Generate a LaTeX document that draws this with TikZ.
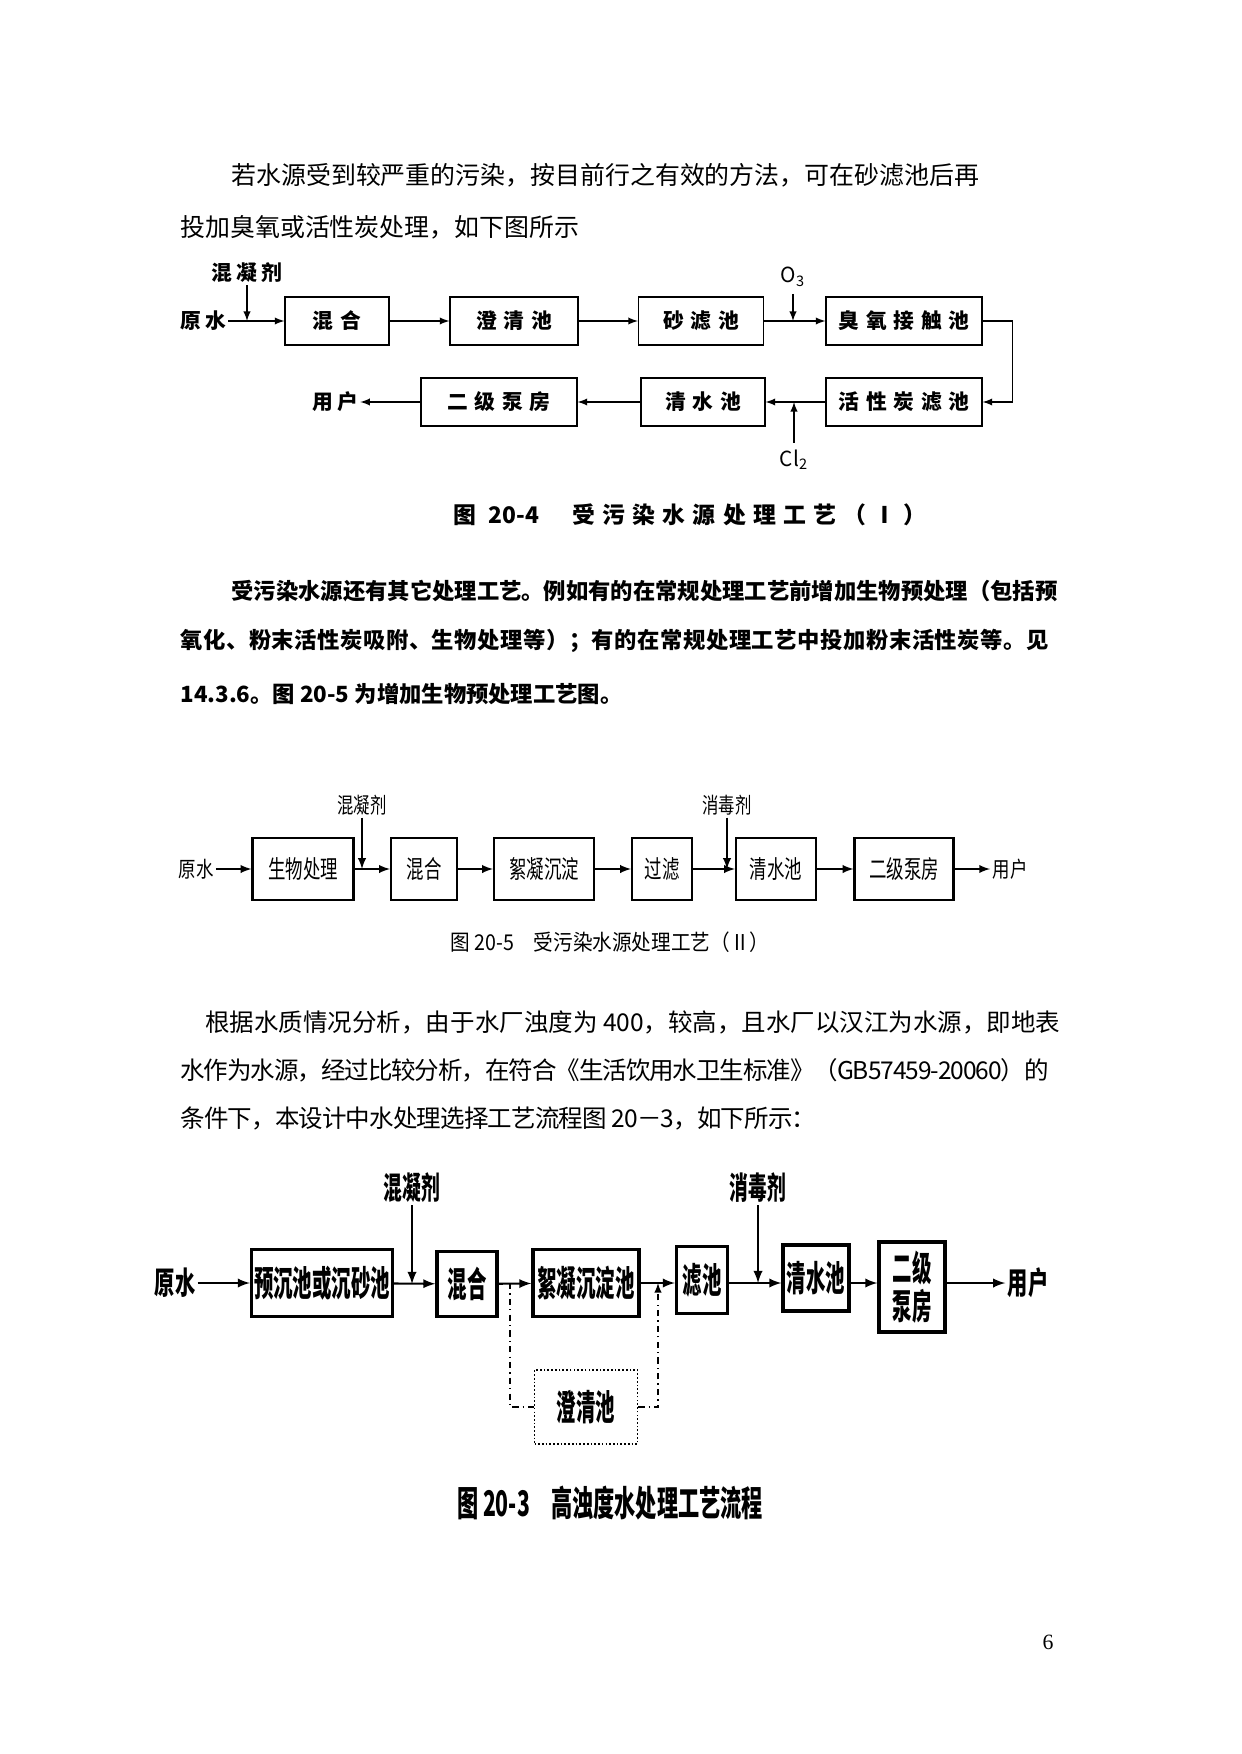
\documentclass[tikz,border=0pt]{standalone}
\usepackage{graphicx}
\usepackage{fontspec}
\setmainfont{Noto Sans CJK SC}
\newfontfamily\wide[LetterSpace=32]{Noto Sans CJK SC}
\newfontfamily\widelabel[LetterSpace=20]{Noto Sans CJK SC}
\newfontfamily\serifnum{Liberation Serif}
\newcommand{\squeeze}[2]{\scalebox{#1}[1]{#2}}

\begin{document}
\begin{tikzpicture}[x=0.016922cm,y=-0.016922cm,>=latex,
  textline/.style={anchor=west,inner sep=0,font=\fontsize{11.8pt}{14pt}\selectfont},
  scanline/.style={anchor=west,inner sep=0,font=\bfseries\fontsize{10.75pt}{13pt}\selectfont},
  boxa/.style={draw,line width=0.6pt,inner sep=0,minimum height=0.812cm,font=\wide\bfseries\fontsize{10pt}{12pt}\selectfont},
  laba/.style={inner sep=1pt,font=\widelabel\bfseries\fontsize{10pt}{12pt}\selectfont},
  flowa/.style={->,line width=0.6pt},
  boxb/.style={draw,line width=1pt,inner sep=0,minimum height=1.049cm,font=\fontsize{12pt}{14pt}\selectfont},
  labb/.style={inner sep=1pt,font=\fontsize{10.5pt}{12pt}\selectfont},
  flowb/.style={->,line width=0.8pt},
  boxc/.style={draw,line width=1.6pt,inner sep=0,minimum height=1.134cm,font=\bfseries\fontsize{17pt}{18.3pt}\selectfont},
  labc/.style={inner sep=1pt,font=\bfseries\fontsize{15pt}{17pt}\selectfont},
  flowc/.style={->,line width=1pt}]
  \useasboundingbox[fill=white] (0,0) rectangle (1241,1754);

  \node[textline,font=\fontsize{12pt}{14pt}\selectfont] (p1a) at (231,175) {若水源受到较严重的污染，按目前行之有效的方法，可在砂滤池后再};
  \node[textline,font=\fontsize{12pt}{14pt}\selectfont] (p1b) at (180,227) {投加臭氧或活性炭处理，如下图所示};

  \node[laba] (coag1) at (247,273) {混凝剂};
  \node[laba] (raw1) at (203,321) {原水};
  \node[boxa,minimum width=1.760cm] (mix1) at (337,321) {混合};
  \node[boxa,minimum width=2.166cm] (clar1) at (514,321) {澄清池};
  \node[boxa,minimum width=2.115cm] (sand1) at (701,321) {砂滤池};
  \node[font=\fontsize{10pt}{12pt}\selectfont] (o3) at (793,277) {$\mathrm{O_3}$};
  \node[boxa,minimum width=2.640cm] (ozone1) at (904,321) {臭氧接触池};
  \node[boxa,minimum width=2.640cm] (carbon1) at (904,402) {活性炭滤池};
  \node[boxa,minimum width=2.098cm] (clear1) at (703,402) {清水池};
  \node[font=\fontsize{10pt}{12pt}\selectfont] (cl2) at (794,460) {$\mathrm{Cl_2}$};
  \node[boxa,minimum width=2.640cm] (pump1) at (499,402) {二级泵房};
  \node[laba] (user1) at (335,402) {用户};
  \node[font=\wide\bfseries\fontsize{11pt}{13pt}\selectfont] (cap1) at (690,515) {图 {\addfontfeature{LetterSpace=0}20-4}\hspace{16pt}受污染水源处理工艺（Ⅰ）};
  \draw[flowa] (coag1) -- (coag1 |- mix1);
  \draw[flowa] (raw1) -- (mix1);
  \draw[flowa] (mix1) -- (clar1);
  \draw[flowa] (clar1) -- (sand1);
  \draw[flowa] (o3) -- (o3 |- sand1);
  \draw[flowa] (sand1) -- (ozone1);
  \draw[flowa] (ozone1.east) -- ++(30,0) |- (carbon1.east);
  \draw[flowa] (carbon1) -- (clear1);
  \draw[flowa] (cl2) -- (cl2 |- clear1);
  \draw[flowa] (clear1) -- (pump1);
  \draw[flowa] (pump1) -- (user1);

  \node[scanline] (p2a) at (231,591) {受污染水源还有其它处理工艺。例如有的在常规处理工艺前增加生物预处理（包括预};
  \node[scanline] (p2b) at (180,641) {\addfontfeature{LetterSpace=2.4}氧化、粉末活性炭吸附、生物处理等）；有的在常规处理工艺中投加粉末活性炭等。见};
  \node[scanline] (p2c) at (180,694) {14.3.6。图 20-5 为增加生物预处理工艺图。};

  \node[labb] (coag2) at (362,805) {\squeeze{0.75}{混凝剂}};
  \node[labb] (raw2) at (196,869) {\squeeze{0.8}{原水}};
  \node[boxb,minimum width=1.709cm] (bio2) at (303,869) {\squeeze{0.7}{生物处理}};
  \node[boxb,minimum width=1.117cm] (mix2) at (424,869) {\squeeze{0.7}{混合}};
  \node[boxb,minimum width=1.692cm] (floc2) at (544,869) {\squeeze{0.7}{絮凝沉淀}};
  \node[boxb,minimum width=1.015cm] (filt2) at (662,869) {\squeeze{0.7}{过滤}};
  \node[labb] (dis2) at (727,805) {\squeeze{0.75}{消毒剂}};
  \node[boxb,minimum width=1.354cm] (clear2) at (776,869) {\squeeze{0.7}{清水池}};
  \node[boxb,minimum width=1.675cm] (pump2) at (904,869) {\squeeze{0.7}{二级泵房}};
  \node[labb] (user2) at (1010,869) {\squeeze{0.8}{用户}};
  \node[font=\fontsize{10.5pt}{12pt}\selectfont] (cap2) at (610,942) {\squeeze{0.9}{图 20-5\quad 受污染水源处理工艺（Ⅱ）}};
  \draw[flowb] (raw2) -- (bio2);
  \draw[flowb] (bio2) -- (mix2);
  \draw[flowb] (coag2) -- (coag2 |- mix2);
  \draw[flowb] (mix2) -- (floc2);
  \draw[flowb] (floc2) -- (filt2);
  \draw[flowb] (filt2) -- (clear2);
  \draw[flowb] (dis2) -- (dis2 |- clear2);
  \draw[flowb] (clear2) -- (pump2);
  \draw[flowb] (pump2) -- (user2);

  \node[textline] (p3a) at (205,1022) {根据水质情况分析，由于水厂浊度为 400，较高，且水厂以汉江为水源，即地表};
  \node[textline] (p3b) at (180,1070) {\addfontfeature{LetterSpace=-4.3}水作为水源，经过比较分析，在符合《生活饮用水卫生标准》（GB57459-20060）的};
  \node[textline] (p3c) at (180,1118) {\addfontfeature{LetterSpace=-3.5}条件下，本设计中水处理选择工艺流程图 20－3，如下所示：};

  \node[labc] (coag3) at (412,1188) {\squeeze{0.6}{混凝剂}};
  \node[labc] (raw3) at (175,1283) {\squeeze{0.65}{原水}};
  \node[boxc,minimum width=2.386cm] (pre3) at (322,1283) {\squeeze{0.55}{预沉池或沉砂池}};
  \node[boxc,minimum width=1.015cm,minimum height=1.100cm] (mix3) at (467,1284) {\squeeze{0.55}{混合}};
  \node[boxc,minimum width=1.794cm] (floc3) at (586,1283) {\squeeze{0.55}{絮凝沉淀池}};
  \node[boxc,minimum width=0.863cm] (filt3) at (702,1280) {\squeeze{0.55}{滤池}};
  \node[labc] (dis3) at (758,1188) {\squeeze{0.6}{消毒剂}};
  \node[boxc,minimum width=1.117cm,minimum height=1.117cm] (clear3) at (816,1278) {\squeeze{0.55}{清水池}};
  \node[boxc,minimum width=1.117cm,minimum height=1.523cm,align=center] (pump3) at (912,1287) {\squeeze{0.55}{二级}\\\squeeze{0.55}{泵房}};
  \node[labc] (user3) at (1028,1283) {\squeeze{0.65}{用户}};
  \node[boxc,minimum width=1.743cm,minimum height=1.252cm,line width=0.8pt,densely dotted] (clarb3) at (586,1407) {\squeeze{0.55}{澄清池}};
  \node[font=\bfseries\fontsize{17pt}{19pt}\selectfont] (cap3) at (610,1503) {\squeeze{0.6}{图 20-3\quad 高浊度水处理工艺流程}};
  \coordinate (br3) at (510,1283);
  \coordinate (jn3) at (658,1283);
  \draw[flowc] (raw3) -- (pre3);
  \draw[flowc] (pre3) -- (mix3);
  \draw[flowc] (coag3) -- (coag3 |- mix3);
  \draw[flowc] (mix3) -- (floc3);
  \draw[flowc] (floc3) -- (floc3 -| filt3.west);
  \draw[line width=0.6pt,dash dot] (br3) |- (clarb3.west);
  \draw[->,line width=0.6pt,dash dot] (clarb3.east) -| (jn3);
  \draw[flowc] (filt3.east |- floc3) -- (filt3.east |- floc3 -| clear3.west);
  \draw[flowc] (dis3) -- (dis3 |- floc3);
  \draw[flowc] (clear3.east |- floc3) -- (clear3.east |- floc3 -| pump3.west);
  \draw[flowc] (pump3.east |- floc3) -- (user3);

  \node[font=\serifnum\fontsize{10.5pt}{12pt}\selectfont] (pageno) at (1048,1642) {6};
\end{tikzpicture}
\end{document}
